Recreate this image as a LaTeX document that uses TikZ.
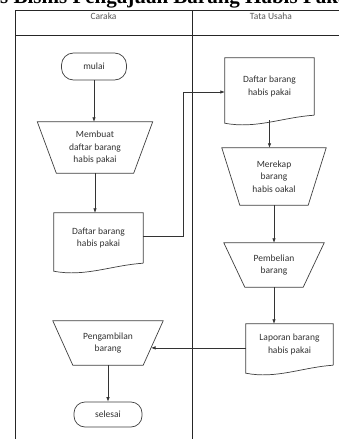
\documentclass[tikz,border=0pt]{standalone}
\usepackage{fontspec}
\setmainfont{Carlito}
\newfontfamily\titlefont{Liberation Serif}
\usetikzlibrary{arrows.meta,calc}
\newcommand\trapdraw[2]{\draw[shp] (#1.north west) -- (#1.north east) -- ([xshift=-#2pt]#1.south east) -- ([xshift=#2pt]#1.south west) -- cycle;}
\newcommand\docdraw[1]{\draw[shp] (#1.south east) -- (#1.north east) -- (#1.north west) -- ([yshift=-8pt]#1.south west)
  .. controls ($(#1.south west)!0.35!(#1.south east)+(0,14)$) and ($(#1.south west)!0.65!(#1.south east)+(0,2)$) .. (#1.south east);}
\begin{document}
\begin{tikzpicture}[x=1pt,y=-1pt,
  lane/.style={draw=black!85, line width=0.9pt},
  shp/.style={draw=black!75, line width=0.7pt},
  box/.style={inner sep=0pt, align=center, font=\fontsize{9.5}{12.5}\selectfont, text=black!80},
  term/.style={box, shp},
  arr/.style={draw=black!80, line width=0.7pt, -{Latex[length=4.5pt,width=3.5pt]}},
]
\useasboundingbox (0,0) rectangle (339,439);
\clip (0,0) rectangle (339,439);
\fill[white] (0,0) rectangle (339,439);
% title (cut off at the top edge)
\node[anchor=base west, inner sep=0pt, font=\titlefont\bfseries\fontsize{21}{24}\selectfont] (title) at (0,4) {\llap{Pro}s Bisnis Pengajuan Barang Habis Pak\rlap{ai}};
% swimlanes
\draw[lane] (15,439) -- (15,10) -- (345,10);
\draw[lane] (15,35) -- (345,35);
\draw[lane] (192,10) -- (192,439);
\node[box, text=black!65] (hc) at (103.5,16) {Caraka};
\node[box, text=black!65] (ht) at (271,16) {Tata Usaha};
% Caraka lane
\node[term, minimum width=65pt, minimum height=27pt, rounded corners=12pt] (mulai) at (94,66.5) {mulai};
\node[box, minimum width=115pt, minimum height=51pt] (t1) at (95,147.5) {Membuat\\daftar barang\\habis pakai};
\trapdraw{t1}{19}
\node[box, minimum width=89pt, minimum height=50pt] (d1) at (98.5,238) {Daftar barang\\habis pakai};
\docdraw{d1}
\node[box, minimum width=110pt, minimum height=44pt] (t4) at (108,343) {Pengambilan\\barang};
\trapdraw{t4}{20}
\node[term, minimum width=68pt, minimum height=25pt, rounded corners=11pt] (sel) at (108,414.5) {selesai};
% Tata Usaha lane
\node[box, minimum width=89pt, minimum height=57pt] (d2) at (269.5,86.5) {Daftar barang\\habis pakai};
\docdraw{d2}
\node[box, minimum width=104pt, minimum height=57pt] (t2) at (274,176.5) {Merekap\\barang\\habis oakal};
\trapdraw{t2}{18}
\node[box, minimum width=100pt, minimum height=44pt] (t3) at (274,265) {Pembelian\\barang};
\trapdraw{t3}{21}
\node[box, minimum width=87pt, minimum height=41pt] (lap) at (289.5,344.5) {Laporan barang\\habis pakai};
\docdraw{lap}
% connectors
\coordinate (c1) at (183,236);
\coordinate (c2) at (183,92);
\draw[arr] (mulai.south) -- (mulai.south |- t1.north);
\draw[arr] (t1.south) -- (t1.south |- d1.north);
\draw[arr] (c1 -| d1.east) -- (c1) -- (c2) -- (c2 -| d2.west);
\draw[arr] ([yshift=-5pt]d2.south) -- (d2.south |- t2.north);
\draw[arr] (t2.south) -- (t2.south |- t3.north);
\draw[arr] (t3.south) -- (t3.south |- lap.north);
\coordinate (p4) at ($(t4.north east)!0.61!([xshift=-20pt]t4.south east)$);
\draw[arr] (p4 -| lap.west) -- (p4);
\draw[arr] (t4.south) -- (t4.south |- sel.north);
\end{tikzpicture}
\end{document}
